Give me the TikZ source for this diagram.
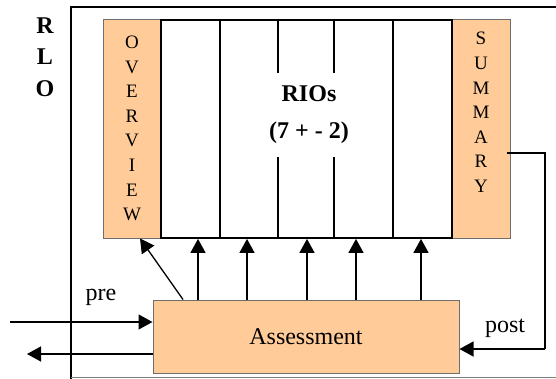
\documentclass[tikz,border=0pt]{standalone}
\usepackage{fontspec}
\setmainfont{Liberation Serif}
\usetikzlibrary{arrows.meta}
\definecolor{peach}{RGB}{255,204,153}
\definecolor{edgegray}{RGB}{110,110,110}
\begin{document}
\begin{tikzpicture}[x=1pt,y=-1pt,
  peachbox/.style={draw=edgegray,fill=peach,line width=1pt,inner sep=0pt,minimum width=58pt,minimum height=218pt},
  riocol/.style={draw=black,line width=1.8pt,inner sep=0pt,minimum height=218pt},
  arr/.style={line width=1.3pt,-{Triangle[length=14pt,width=15pt]}},
  lbl/.style={font=\fontsize{24}{28}\selectfont,inner sep=0pt},
  vert/.style={font=\fontsize{19}{24.6}\selectfont,align=center,inner sep=0pt}
]
\useasboundingbox (0,0) rectangle (556,379);
\begin{scope}
\clip (0,0) rectangle (556,379);
% outer RLO frame
\draw[line width=1.2pt] (600,7) -- (71,7) -- (71,385);
\draw[line width=1.2pt,draw=gray] (71,377.5) -- (600,377.5);
\end{scope}
\node[font=\bfseries\fontsize{24}{31.5}\selectfont,align=center,inner sep=0pt] (rlo) at (45,57) {R\\L\\O};
% overview and summary
\node[peachbox] (ov) at (132,129) {};
\node[peachbox] (sum) at (481,129) {};
\node[vert] (ovtext) at (132,128.5) {O\\V\\E\\R\\V\\I\\E\\W};
\node[vert] (sumtext) at (481,112.5) {S\\U\\M\\M\\A\\R\\Y};
% RIO columns
\node[riocol,minimum width=59pt] (r1) at (190.5,129) {};
\node[riocol,minimum width=58pt] (r2) at (249,129) {};
\node[riocol,minimum width=56pt] (r3) at (306,129) {};
\node[riocol,minimum width=59pt] (r4) at (363.5,129) {};
\node[riocol,minimum width=59pt] (r5) at (422.5,129) {};
\node[fill=white,font=\bfseries\fontsize{24}{37}\selectfont,align=center,inner sep=2pt,minimum height=84pt] (rios) at (309,115) {RIOs\\(7 + - 2)};
% assessment
\node[draw=edgegray,fill=peach,line width=1pt,minimum width=306pt,minimum height=73pt,inner sep=0pt,font=\fontsize{24}{28}\selectfont] (assess) at (306,336.5) {Assessment};
% upward arrows
\coordinate (a1) at ([xshift=7.5pt]r1.south);
\coordinate (a2) at ([xshift=-2pt]r2.south);
\coordinate (a3) at ([xshift=1pt]r3.south);
\coordinate (a4) at ([xshift=-7.5pt]r4.south);
\coordinate (a5) at ([xshift=-1.5pt]r5.south);
\foreach \c in {a1,a2,a3,a4,a5}
  \draw[arr] (\c |- assess.north) -- (\c);
\draw[arr] ([xshift=-123pt]assess.north) -- ([xshift=8pt]ov.south);
% pre and output
\coordinate (prein) at (10,322);
\draw[arr] (prein) -- (prein -| assess.west);
\node[lbl] (pre) at (101,297) {pre};
\coordinate (outend) at (27,354);
\draw[arr] (outend -| assess.west) -- (outend);
% post loop
\coordinate (s0) at ([xshift=-4pt,yshift=-24pt]sum.east);
\coordinate (corner) at (545,349);
\draw[line width=1.3pt] (s0) -| (corner);
\draw[arr] (corner) -- (corner -| assess.east);
\node[lbl] (post) at (505,328) {post};
\end{tikzpicture}
\end{document}
